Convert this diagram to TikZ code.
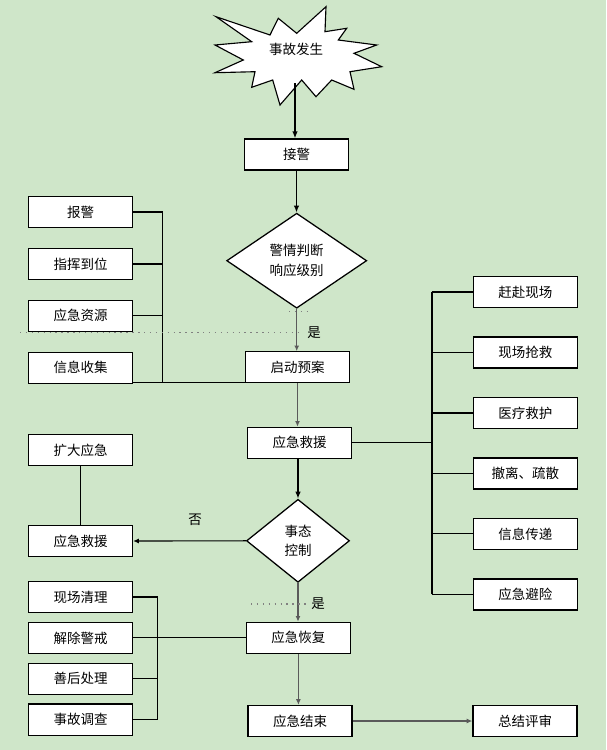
\documentclass[tikz,border=0pt]{standalone}
\usepackage{fontspec}
\newfontfamily\cjk{Noto Sans CJK SC}
\usepackage{tikz}
\usetikzlibrary{positioning,shapes.geometric,arrows.meta}
\definecolor{bggreen}{RGB}{207,230,201}
\definecolor{linegray}{RGB}{90,90,90}

\begin{document}
\begin{tikzpicture}[x=0.025cm, y=-0.025cm,
    font=\cjk\fontsize{9.6}{14}\selectfont,
    box/.style={draw, fill=white, line width=0.9pt, minimum width=2.6cm, minimum height=0.775cm, inner sep=0pt},
    judge/.style={draw, fill=white, diamond, line width=0.9pt, inner sep=0pt, align=center},
    thickarrow/.style={line width=1.4pt, -{Latex[length=5pt,width=4pt]}},
    grayarrow/.style={linegray, line width=1pt, -{Latex[length=4pt,width=3.5pt]}},
    thinarrow/.style={line width=0.8pt, -{Latex[length=4pt,width=3.5pt]}},
    bracket/.style={line width=1.4pt},
    link/.style={line width=0.8pt},
    dotline/.style={gray, line width=1pt, dash pattern=on 1pt off 3.2pt}]

    \useasboundingbox (0,0) rectangle (606,750);
    \fill[bggreen] (0,0) rectangle (606,750);

    % start
    \draw[fill=white, line width=0.8pt] (216,16.7) -- (270,35) -- (278.3,18.3) -- (296.7,33.3)
      -- (326,6.7) -- (325,31.7) -- (346.7,28.3) -- (338.3,40) -- (376.7,45) -- (354,53.3)
      -- (381.7,66.7) -- (350,71.7) -- (354,89.3) -- (331.7,80) -- (316,96.7) -- (301.7,80)
      -- (280,105) -- (272.7,80) -- (251.7,87.3) -- (255,71.7) -- (215,72.7) -- (243.3,60)
      -- (215,45) -- (251.7,41.7) -- cycle;
    \node (fasheng) at (296,49) {事故发生};
    \coordinate (startip) at (295,83);

    % main column
    \node[box] (jiejing) at (296.5,154.5) {接警};
    \node[judge, minimum width=3.5cm, minimum height=2.375cm] (panduan) at (296.7,260.7) {警情判断\\响应级别};
    \node[box] (qidong) at (297.5,367.3) {启动预案};
    \node[box] (jiuyuan) at (299.7,442.8) {应急救援};
    \node[judge, minimum width=2.575cm, minimum height=2.075cm] (kongzhi) at (298,540.8) {事态\\控制};
    \node[box] (huifu) at (298.4,637.8) {应急恢复};
    \node[box] (jieshu) at (300,721) {应急结束};
    \node[box] (pingshen) at (525,721) {总结评审};

    % left, top
    \node[box] (baojing) at (80.5,212) {报警};
    \node[box, below=0.49cm of baojing] (zhihui) {指挥到位};
    \node[box, below=0.49cm of zhihui] (ziyuan) {应急资源};
    \node[box, below=0.49cm of ziyuan] (shouji) {信息收集};

    % left, middle
    \node[box] (kuoda) at (80.5,450) {扩大应急};
    \node[box] (jiuyuanL) at (80.5,541) {应急救援};

    % left, bottom
    \node[box] (qingli) at (80.5,597) {现场清理};
    \node[box, below=0.215cm of qingli] (jiechu) {解除警戒};
    \node[box, below=0.215cm of jiechu] (shanhou) {善后处理};
    \node[box, below=0.215cm of shanhou] (diaocha) {事故调查};

    % right
    \node[box] (ganfu) at (525.3,292) {赶赴现场};
    \node[box, below=0.705cm of ganfu] (qiangjiu) {现场抢救};
    \node[box, below=0.705cm of qiangjiu] (yiliao) {医疗救护};
    \node[box, below=0.705cm of yiliao] (cheli) {撤离、疏散};
    \node[box, below=0.705cm of cheli] (chuandi) {信息传递};
    \node[box, below=0.705cm of chuandi] (bixian) {应急避险};

    \coordinate (lbar) at (162.7,0);
    \coordinate (rbar) at (431.7,0);
    \coordinate (bbar) at (157.5,0);

    % main flow
    \draw[thickarrow] (startip) -- (startip |- jiejing.north);
    \draw[thickarrow] (jiejing.south) -- (jiejing.south |- panduan.north);
    \draw[grayarrow] (panduan.south) -- (panduan.south |- qidong.north);
    \draw[grayarrow] (qidong.south) -- (qidong.south |- jiuyuan.north);
    \draw[thickarrow] (kongzhi.north |- jiuyuan.south) -- (kongzhi.north);
    \draw[grayarrow] (kongzhi.south) -- (kongzhi.south |- huifu.north);
    \draw[grayarrow] (huifu.south) -- (huifu.south |- jieshu.north);
    \draw[grayarrow] (jieshu) -- (pingshen);
    \draw[thinarrow] (kongzhi.west) -- (jiuyuanL.east);
    \draw[link] (kuoda) -- (jiuyuanL);

    % left top bracket
    \draw[bracket] (baojing.east) -- (baojing.east -| lbar);
    \draw[bracket] (zhihui.east) -- (zhihui.east -| lbar);
    \draw[link] (ziyuan.east) -- (ziyuan.east -| lbar);
    \draw[link] (baojing.east -| lbar) -- ([yshift=0.6pt]lbar |- shouji.south);
    \draw[link] ([yshift=0.6pt]shouji.south east) -- ([yshift=0.6pt]shouji.south -| qidong.west);

    % right bracket
    \draw[link] (jiuyuan.east) -- (jiuyuan.east -| rbar);
    \draw[bracket] (rbar |- ganfu) -- (rbar |- bixian);
    \draw[link] (rbar |- ganfu) -- (ganfu.west);
    \draw[link] (rbar |- qiangjiu) -- (qiangjiu.west);
    \draw[link] (rbar |- yiliao) -- (yiliao.west);
    \draw[link] (rbar |- cheli) -- (cheli.west);
    \draw[link] (rbar |- chuandi) -- (chuandi.west);
    \draw[link] (rbar |- bixian) -- (bixian.west);

    % left bottom bracket
    \draw[bracket] (bbar |- qingli) -- (bbar |- diaocha);
    \draw[link] (qingli.east) -- (qingli.east -| bbar);
    \draw[link] (jiechu.east) -- (jiechu.east -| bbar);
    \draw[link] (shanhou.east) -- (shanhou.east -| bbar);
    \draw[link] (diaocha.east) -- (diaocha.east -| bbar);
    \draw[link] (bbar |- jiechu) -- (bbar |- jiechu -| huifu.west);

    % labels
    \draw[dotline] (20,332.7) -- (303,332.7);
    \draw[dotline] (289,311.7) -- (307,311.7);
    \draw[dotline] (251,604) -- (309.6,604);
    \node (shi1) at (314,333) {是};
    \node (shi2) at (318,604) {是};
    \node (fou) at (195,520) {否};
\end{tikzpicture}
\end{document}
